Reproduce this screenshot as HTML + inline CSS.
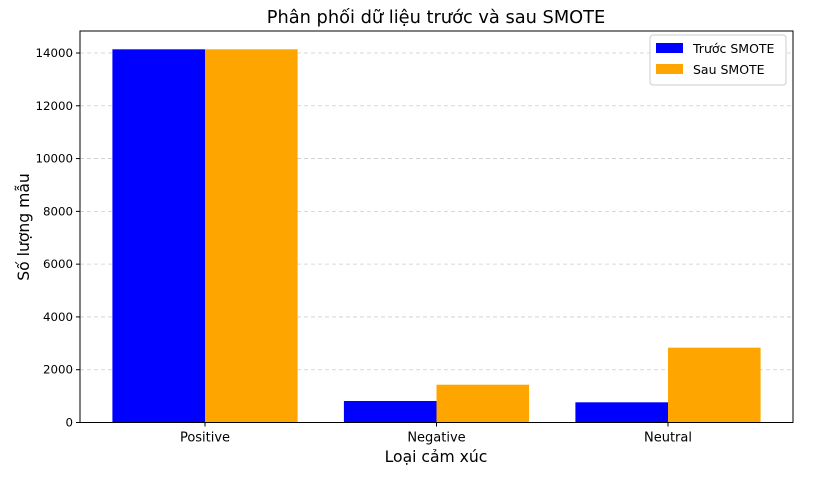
<!DOCTYPE html>
<html><head><meta charset="utf-8"><style>
body{margin:0;background:#fff;}
svg text{font-family:"DejaVu Sans","Liberation Sans",sans-serif;}
</style></head><body>
<svg id="chart" width="819" height="472" xmlns="http://www.w3.org/2000/svg">
<text x="436" y="23" font-size="17.8" text-anchor="middle">Phân phối dữ liệu trước và sau SMOTE</text>
<g id="grid"></g>
<g id="bars"></g>
<rect x="80" y="31" width="713" height="391.5" fill="none" stroke="#000" stroke-width="1"/>
<g id="axes"></g>
<text x="436" y="462" font-size="15.6" text-anchor="middle">Loại cảm xúc</text>
<text x="29" y="227" font-size="15.6" text-anchor="middle" transform="rotate(-90 29 227)">Số lượng mẫu</text>
<g>
<rect x="650" y="35" width="136" height="50" fill="#fff" stroke="#ccc" rx="3"/>
<rect x="656" y="43" width="27" height="10" fill="#0000ff"/>
<text x="693" y="53" font-size="12.5">Trước SMOTE</text>
<rect x="656" y="64" width="27" height="10" fill="#ffa500"/>
<text x="693" y="74" font-size="12.5">Sau SMOTE</text>
</g>
</svg>
<script>
const categories = ["Positive","Negative","Neutral"];
const beforeValues = [14140, 815, 765];
const afterValues = [14140, 1432, 2835];
const yTicks = [0,2000,4000,6000,8000,10000,12000,14000];
const NS="http://www.w3.org/2000/svg";
const x0=80,x1=793,y0=422.5,y1=53;
const xs=v=>x0+(v+0.54)/3.08*(x1-x0);
const ys=v=>y0-v/14000*(y0-y1);
function mk(tag,attrs,parent){const e=document.createElementNS(NS,tag);for(const k in attrs)e.setAttribute(k,attrs[k]);document.getElementById(parent).appendChild(e);return e;}
yTicks.forEach(t=>{
  const y=ys(t);
  if(t>0){const g=mk('line',{x1:x0,x2:x1,y1:y,y2:y,stroke:'#ccc','stroke-dasharray':'4 3','stroke-width':0.8},'grid');
  
  }
  const tk=mk('line',{x1:x0-4,x2:x0,y1:y,y2:y,stroke:'#000'},'axes');
  
  
  const tx=mk('text',{x:x0-7,y:y+4,'font-size':11.8,'text-anchor':'end'},'axes');
  tx.textContent=t;
  
  
});
const w=0.4;
categories.forEach((c,i)=>{
  const b=mk('rect',{x:xs(i-w),y:ys(beforeValues[i]),width:xs(i)-xs(i-w),height:y0-ys(beforeValues[i]),fill:'#0000ff'},'bars');
  
  
  const a=mk('rect',{x:xs(i),y:ys(afterValues[i]),width:xs(i+w)-xs(i),height:y0-ys(afterValues[i]),fill:'#ffa500'},'bars');
  
  
  const tk=mk('line',{x1:xs(i),x2:xs(i),y1:y0,y2:y0+4,stroke:'#000'},'axes');
  
  
  const tx=mk('text',{x:xs(i),y:y0+19,'font-size':13,'text-anchor':'middle'},'axes');
  tx.textContent=c;
  
  
});
</script>
</body></html>
